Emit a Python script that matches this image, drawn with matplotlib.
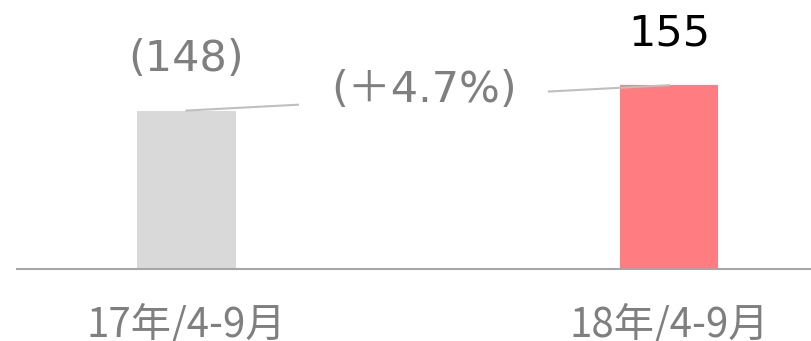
import matplotlib
matplotlib.use("Agg")
import matplotlib.pyplot as plt

plt.rcParams['font.family'] = ['DejaVu Sans', 'Noto Sans CJK JP']

periods = ['17年/4-9月', '18年/4-9月']
values = [148, 155]
value_labels = ['(148)', '155']
change_label = '(＋4.7%)'

bar_colors = ['#d9d9d9', '#ff7c80']
label_colors = ['#7f7f7f', '#000000']
grey = '#7f7f7f'


def main():
    fig = plt.figure(figsize=(8.12, 3.41), dpi=100)
    # axes spans from the baseline up to the top edge
    ax = fig.add_axes([17 / 812, 72 / 341, 1 - 17 / 812, 269 / 341])

    x = list(range(len(values)))
    ax.bar(x, values, width=0.204, color=bar_colors, zorder=2)

    ax.set_xlim(-0.3513, 1.2964)
    ax.set_ylim(104.3, 178.5)

    for xi, v, lab, c in zip(x, values, value_labels, label_colors):
        ax.annotate(lab, (xi, v), xytext=(0, 37), textcoords='offset points',
                    ha='center', va='center', fontsize=31, color=c)

    # connector line between bar tops with a gap for the change label
    x0, x1 = x[0], x[1]
    y0, y1 = values[0], values[1]
    for a, b in [(0.0, 0.231), (0.751, 1.0)]:
        ax.plot([x0 + a * (x1 - x0), x0 + b * (x1 - x0)],
                [y0 + a * (y1 - y0), y0 + b * (y1 - y0)],
                color='#bfbfbf', lw=1.5, zorder=3)
    mid = 0.492
    ax.annotate(change_label, (x0 + mid * (x1 - x0), y0 + mid * (y1 - y0)),
                xytext=(0, 6), textcoords='offset points',
                ha='center', va='center', fontsize=31, color=grey)

    for s in ['top', 'right', 'left']:
        ax.spines[s].set_visible(False)
    ax.spines['bottom'].set_color('#a6a6a6')
    ax.spines['bottom'].set_linewidth(1.5)
    ax.set_yticks([])
    ax.set_xticks(x)
    ax.set_xticklabels(periods, fontsize=29, color=grey,
                       family=['Noto Sans CJK JP', 'DejaVu Sans'])
    ax.tick_params(axis='x', length=0, pad=25)

    fig.savefig('out.png', dpi=100)


if __name__ == "__main__":
    main()
